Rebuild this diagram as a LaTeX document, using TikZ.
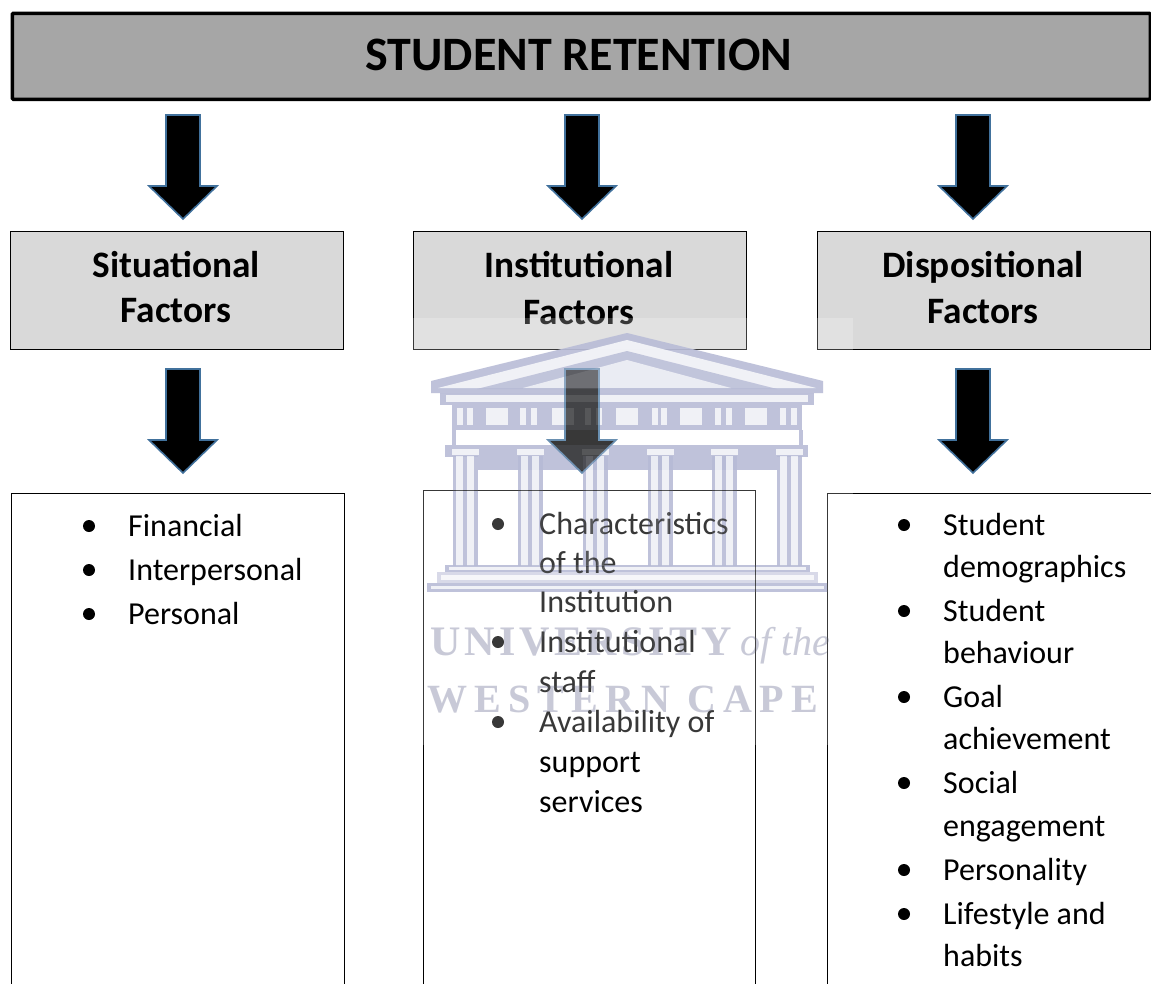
\documentclass[tikz,border=0pt]{standalone}
\usepackage{fontspec}
\setmainfont{Carlito}
\newfontfamily\wmfont[LetterSpace=10]{Liberation Serif}
\newfontfamily\wmfontb[LetterSpace=18]{Liberation Serif}
\newfontfamily\wmital{Liberation Serif}
\definecolor{wmblue}{HTML}{A9AECF}
\definecolor{wmgrey}{HTML}{B6B8CA}
\definecolor{arrowedge}{HTML}{41719C}
\newcommand{\wmop}{.9}
\tikzset{
  x=1pt,y=-1pt,
  titlebox/.style={draw=black,line width=3.5pt,fill=black!35,rounded corners=1pt},
  factorbox/.style={draw=black,line width=.8pt,fill=black!15},
  listbox/.style={draw=black,line width=.8pt},
  blockarrow/.style={draw=arrowedge,line width=1.6pt,fill=black,miter limit=10},
  titletext/.style={font=\fontsize{48}{52}\selectfont\bfseries,inner sep=0pt},
  factortext/.style={font=\fontsize{37.3}{44}\selectfont\bfseries,inner sep=0pt,anchor=base},
  listtext/.style={font=\fontsize{32}{36}\selectfont,anchor=base west,inner sep=0pt},
  bulletdot/.style={circle,fill=black,inner sep=0pt,minimum size=12pt},
  wm/.style={fill=wmblue,draw=none,opacity=\wmop},
  wmw/.style={fill=white,draw=none,opacity=\wmop},
  wmpale/.style={fill=wmblue!60,draw=none,opacity=\wmop},
}
\newcommand{\downarrowat}[2]{%
  \draw[blockarrow] (#1-17,#2) -- (#1+17,#2) -- (#1+17,#2+71) -- (#1+34,#2+71)
    -- (#1,#2+104) -- (#1-34,#2+71) -- (#1-17,#2+71) -- cycle;}
\newcommand{\lineat}[4]{\node[listtext] (#1) at (#2,#3) {#4};}
\newcommand{\dotat}[3]{\node[bulletdot] (#1) at (#2,#3) {};}
\newcommand{\columnat}[1]{%
  \fill[wm] (#1-12.5,456) rectangle (#1+12.5,566);
  \fill[wmw] (#1-9,456) rectangle (#1-2,566);
  \fill[wmw] (#1+2,456) rectangle (#1+9,566);
  \fill[wmw] (#1-13,449) rectangle (#1+14,455);}
\newcommand{\templeshapes}{%
  % pediment
  \fill[wm] (431,381) -- (627,333) -- (823,381) -- (823,393) -- (431,393) -- cycle;
  \fill[wmw] (438,388) -- (627,340) -- (816,388) -- cycle;
  \fill[wm] (477,389) -- (627,351) -- (777,389) -- cycle;
  \fill[wmw] (523,388) -- (627,360) -- (731,388) -- cycle;
  % cornice
  \fill[wm] (440,393) rectangle (814,405);
  \fill[wmw] (446,395) rectangle (808,402);
  % frieze
  \fill[wm] (452,405) rectangle (802,430);
  \foreach \mx in {497,563,627,691,756}{\fill[wmw] (\mx-11,408) rectangle (\mx+11,425);}
  \foreach \mx in {460,470,523,534,588,599,655,664,718,729,783,794}{\fill[wmw] (\mx-3,408) rectangle (\mx+3,425);}
  % architrave
  \fill[wm] (452,430) rectangle (456,445);
  \fill[wm] (799,430) rectangle (803,445);
  % capital band
  \fill[wm] (445,445) rectangle (808,457);
  \fill[wm] (478,457) rectangle (777,470);
  \columnat{465}\columnat{530}\columnat{595}\columnat{660}\columnat{724}\columnat{789}
  % steps
  \fill[wm] (445,565) rectangle (810,572);
  \fill[wmw] (449,567) rectangle (806,570);
  \fill[wmpale] (437,572) rectangle (818,583);
  \fill[wmw] (441,575) rectangle (814,580);
  \fill[wm] (427,583) rectangle (828,592);
  \fill[wmw] (431,585.5) rectangle (824,589);
  % lettering
  \node[anchor=base west,inner sep=0pt,text=wmgrey,text opacity=\wmop] (wm1) at (430,655)
    {\fontsize{42}{48}\wmfont\bfseries\selectfont UNIVERSITY};
  \node[anchor=base west,inner sep=0pt,text=wmgrey,text opacity=\wmop] (wm3) at (740,655)
    {\fontsize{40}{48}\wmital\itshape\selectfont of the};
  \node[anchor=base west,inner sep=0pt,text=wmgrey,text opacity=\wmop] (wm2) at (427,712)
    {\fontsize{40}{48}\wmfontb\bfseries\selectfont WESTERN CAPE};
}
\begin{document}
\begin{tikzpicture}
\useasboundingbox (0,0) rectangle (1151,983);
\clip (0,0) rectangle (1151,983);
\fill[white] (0,0) rectangle (1151,983);
% title
\node[titlebox,minimum width=1138pt,minimum height=86pt,anchor=north west] (title) at (10.5,11.5) {};
\node[titletext] (titlet) at (579,55) {STUDENT RETENTION};
% factor boxes
\node[factorbox,minimum width=333pt,minimum height=118pt,anchor=north west] (sit) at (10,231) {};
\node[factorbox,minimum width=333pt,minimum height=118pt,anchor=north west] (ins) at (412.5,231) {};
\node[factorbox,minimum width=333pt,minimum height=118pt,anchor=north west] (dis) at (816.5,231) {};
% watermark, beneath the marks
\templeshapes
\node[factortext] (sit1) at (176,277) {Situational};
\node[factortext] (sit2) at (176,322) {Factors};
\node[factortext] (ins1) at (579,277) {Institutional};
\node[factortext] (ins2) at (579,324) {Factors};
\node[factortext] (dis1) at (983,277) {Dispositional};
\node[factortext] (dis2) at (983,323) {Factors};
% arrows
\downarrowat{183}{115}
\downarrowat{582}{115}
\downarrowat{973}{115}
\downarrowat{183}{369}
\downarrowat{582}{369}
\downarrowat{973}{369}
% list boxes (run past the page foot)
\draw[listbox] (11,1000) |- (344.5,493) -- (344.5,1000);
\draw[listbox] (423,1000) |- (755,490) -- (755,1000);
\draw[listbox] (827,1000) |- (1160,493);
% left list
\dotat{a1}{89}{526}\lineat{at1}{128}{536}{Financial}
\dotat{a2}{89}{570}\lineat{at2}{128}{580}{Interpersonal}
\dotat{a3}{89}{614}\lineat{at3}{128}{624}{Personal}
% middle list
\dotat{b1}{498}{524}\lineat{bt1}{539}{534}{Characteristics}
\lineat{bt2}{539}{573}{of the}
\lineat{bt3}{539}{612}{Institution}
\dotat{b2}{498}{642}\lineat{bt4}{539}{652}{Institutional}
\lineat{bt5}{539}{692}{staff}
\dotat{b3}{498}{722}\lineat{bt6}{539}{732}{Availability of}
\lineat{bt7}{539}{772}{support}
\lineat{bt8}{539}{812}{services}
% right list
\dotat{c1}{904}{525}\lineat{ct1}{943}{535}{Student}
\lineat{ct2}{943}{577}{demographics}
\dotat{c2}{904}{611}\lineat{ct3}{943}{621}{Student}
\lineat{ct4}{943}{663}{behaviour}
\dotat{c3}{904}{697}\lineat{ct5}{943}{707}{Goal}
\lineat{ct6}{943}{749}{achievement}
\dotat{c4}{904}{783}\lineat{ct7}{943}{793}{Social}
\lineat{ct8}{943}{836}{engagement}
\dotat{c5}{904}{870}\lineat{ct9}{943}{880}{Personality}
\dotat{c6}{904}{914}\lineat{ct10}{943}{924}{Lifestyle and}
\lineat{ct11}{943}{966}{habits}
% veil and faint watermark over the marks
\fill[white,opacity=.22] (395,318) rectangle (853,745);
\renewcommand{\wmop}{.1}
\begin{scope}[name prefix=top-]
\templeshapes
\end{scope}
\end{tikzpicture}
\end{document}
